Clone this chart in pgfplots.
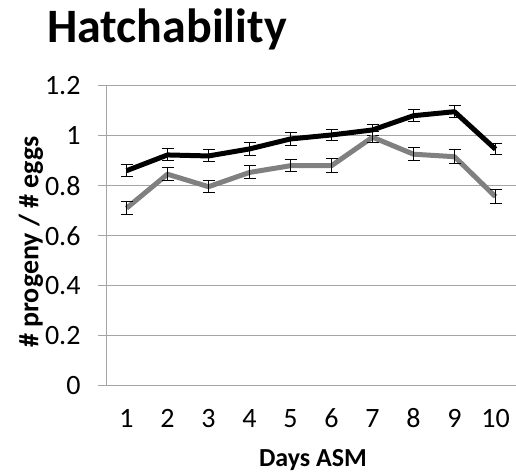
\documentclass[border=0pt]{standalone}
\usepackage{pgfplots}
\pgfplotsset{compat=1.18}
\usepackage{fontspec}
\setmainfont{Carlito}
\definecolor{gridgray}{RGB}{165,165,165}
\definecolor{ser2}{RGB}{128,128,128}
\begin{document}
\begin{tikzpicture}[x=1pt,y=1pt]
\useasboundingbox (0,0) rectangle (516,474);
\node[anchor=base west,font=\fontsize{48}{50}\selectfont\bfseries,inner sep=0pt] at (47,431) {Hatchability};
\node[rotate=90,font=\fontsize{28}{30}\selectfont\bfseries,inner sep=0pt] at (31,232) {\# progeny / \# eggs};
\node[anchor=base,font=\fontsize{26}{28}\selectfont\bfseries,inner sep=0pt] at (313,8) {Days ASM};
\begin{axis}[
  at={(106pt,88.3pt)}, anchor=south west,
  scale only axis, width=410pt, height=300pt,
  xmin=0.5, xmax=10.5, ymin=0, ymax=1.2,
  xtick={1,...,10}, ytick={0,0.2,...,1.2},
  yticklabels={0,0.2,0.4,0.6,0.8,1,1.2},
  /pgf/number format/assume math mode=true,
  tick label style={font=\fontsize{28}{30}\selectfont},
  axis x line*=bottom, axis y line*=left,
  axis line style={gridgray, line width=1pt, -},
  ymajorgrids, xmajorgrids=false, grid style={gridgray, line width=1pt},
  major tick length=8pt,
  xtick style={draw=none},
  ytick style={gridgray, line width=1pt},
  tick align=outside,
  yticklabel style={anchor=east, xshift=-14pt},
  xticklabel style={anchor=base, yshift=-34pt},
  clip=false,
]
\addplot[black, line width=5pt, line join=round,
  error bars/.cd, y dir=both, y explicit,
  error bar style={black, line width=1pt},
  error mark options={black, line width=1pt, mark size=6pt, rotate=90}]
  table[x=x,y=y,y error=e] {
x y e
1 0.860 0.023
2 0.923 0.024
3 0.919 0.024
4 0.947 0.025
5 0.987 0.025
6 1.003 0.022
7 1.023 0.021
8 1.080 0.023
9 1.096 0.023
10 0.946 0.023
};
\addplot[ser2, line width=5pt, line join=round,
  error bars/.cd, y dir=both, y explicit,
  error bar style={black, line width=1pt},
  error mark options={black, line width=1pt, mark size=6pt, rotate=90}]
  table[x=x,y=y,y error=e] {
x y e
1 0.710 0.027
2 0.846 0.026
3 0.796 0.025
4 0.853 0.026
5 0.880 0.025
6 0.880 0.028
7 0.994 0.022
8 0.926 0.025
9 0.916 0.027
10 0.756 0.028
};
\end{axis}
\end{tikzpicture}
\end{document}
